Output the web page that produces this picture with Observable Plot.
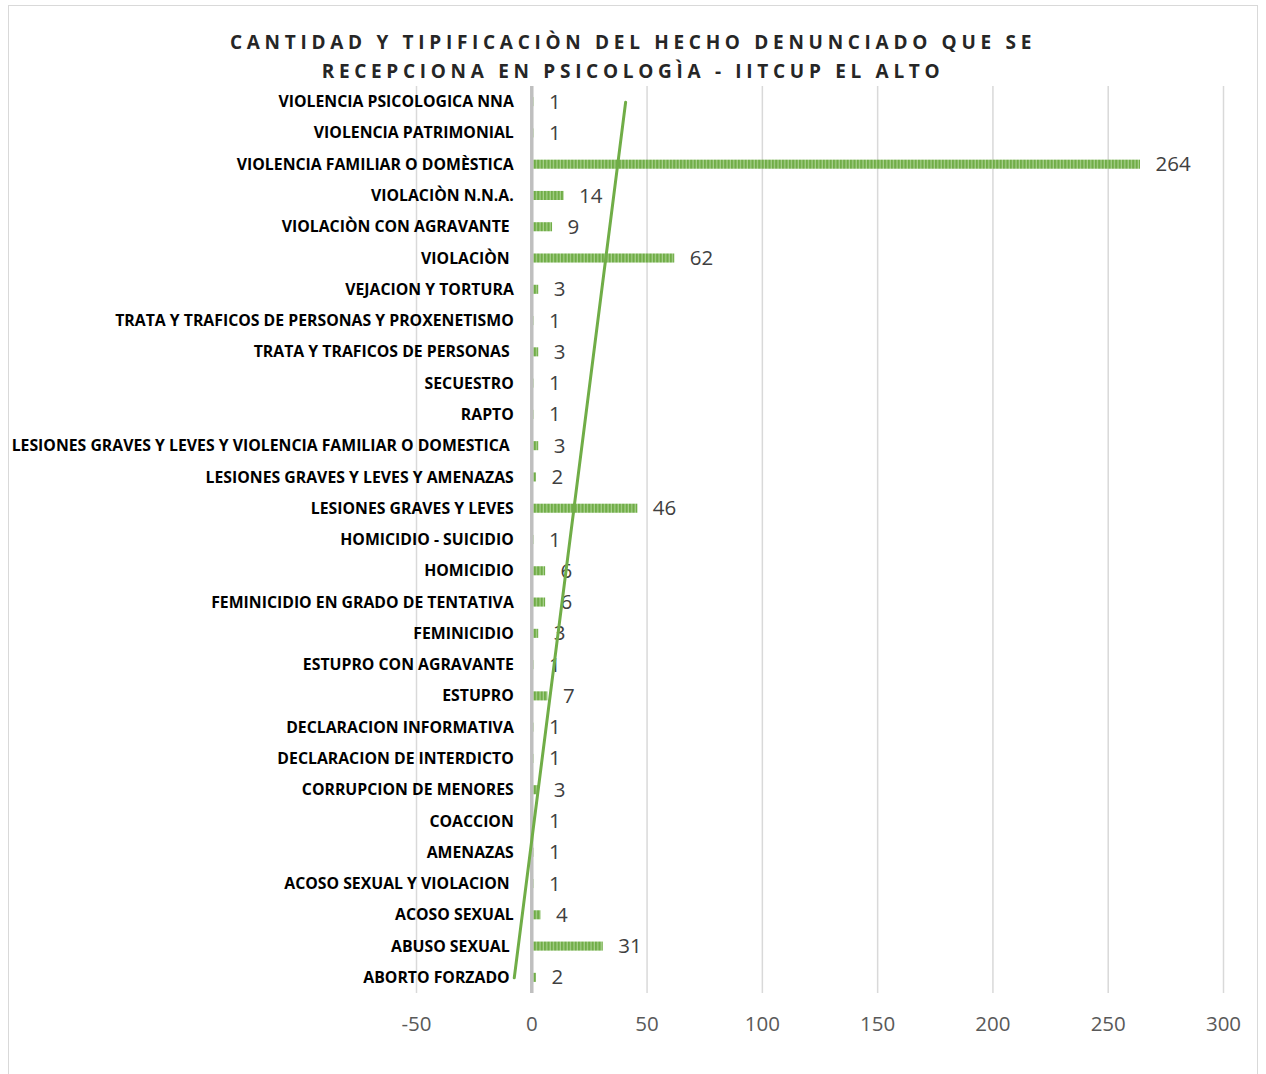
<!DOCTYPE html>
<html>
<head>
<meta charset="utf-8">
<script src="https://cdn.jsdelivr.net/npm/d3@7"></script>
<script src="https://cdn.jsdelivr.net/npm/@observablehq/plot@0.6"></script>
<style>
  html, body { margin: 0; padding: 0; background: #fff; }
  #page { position: relative; width: 1266px; height: 1074px; overflow: hidden; }
  #frame { position: absolute; left: 8px; top: 5px; width: 1250px; height: 1090px; border: 1.5px solid #d9d9d9; box-sizing: border-box; }
  #title { position: absolute; left: 0; top: 28px; width: 1266px; text-align: center;
           font-family: "Open Sans", sans-serif; font-weight: 700; font-size: 19px; letter-spacing: 4.7px;
           line-height: 28.5px; color: #262626; }
  #chart { position: absolute; left: 0; top: 80px; }
</style>
</head>
<body>
<div id="page">
  <div id="frame"></div>
  <div id="title">CANTIDAD Y TIPIFICACIÒN DEL HECHO DENUNCIADO QUE SE<br>RECEPCIONA EN PSICOLOGÌA - IITCUP EL ALTO</div>
  <div id="chart"></div>
</div>
<script>
// Categories, top to bottom as shown
const categories = [
  "VIOLENCIA PSICOLOGICA NNA",
  "VIOLENCIA PATRIMONIAL",
  "VIOLENCIA FAMILIAR O DOMÈSTICA",
  "VIOLACIÒN N.N.A.",
  "VIOLACIÒN CON AGRAVANTE ",
  "VIOLACIÒN ",
  "VEJACION Y TORTURA",
  "TRATA Y TRAFICOS DE PERSONAS Y PROXENETISMO",
  "TRATA Y TRAFICOS DE PERSONAS ",
  "SECUESTRO",
  "RAPTO",
  "LESIONES GRAVES Y LEVES Y VIOLENCIA FAMILIAR O DOMESTICA ",
  "LESIONES GRAVES Y LEVES Y AMENAZAS",
  "LESIONES GRAVES Y LEVES",
  "HOMICIDIO - SUICIDIO",
  "HOMICIDIO",
  "FEMINICIDIO EN GRADO DE TENTATIVA",
  "FEMINICIDIO",
  "ESTUPRO CON AGRAVANTE",
  "ESTUPRO",
  "DECLARACION INFORMATIVA",
  "DECLARACION DE INTERDICTO",
  "CORRUPCION DE MENORES",
  "COACCION",
  "AMENAZAS",
  "ACOSO SEXUAL Y VIOLACION ",
  "ACOSO SEXUAL",
  "ABUSO SEXUAL ",
  "ABORTO FORZADO "
];
const counts = [1, 1, 264, 14, 9, 62, 3, 1, 3, 1, 1, 3, 2, 46, 1, 6, 6, 3, 1, 7, 1, 1, 3, 1, 1, 1, 4, 31, 2];
const xTicks = [-50, 0, 50, 100, 150, 200, 250, 300];

const data = categories.map((c, i) => ({category: c, count: counts[i]}));

// Linear trendline (Excel style): category index from bottom (1..n) vs count
const n = data.length;
const pts = data.map((d, i) => ({idx: n - i, count: d.count, category: d.category}));
const mx = d3.mean(pts, d => d.idx), my = d3.mean(pts, d => d.count);
const slope = d3.sum(pts, d => (d.idx - mx) * (d.count - my)) / d3.sum(pts, d => (d.idx - mx) ** 2);
const intercept = my - slope * mx;
const trend = [pts[n - 1], pts[0]].map(p => ({category: p.category, v: intercept + slope * p.idx}));

const green = "#70AD47";
const plot = Plot.plot({
  width: 1266,
  height: 994,
  marginLeft: 416,
  marginRight: 43,
  marginTop: 6,
  marginBottom: 81,
  style: {fontFamily: "'Open Sans', sans-serif", background: "transparent", overflow: "visible"},
  x: {domain: [-50, 300], ticks: xTicks, tickSize: 0, tickPadding: 23, label: null, tickFormat: d => String(d)},
  y: {domain: categories, paddingInner: 0.71, paddingOuter: 0.355, round: false, axis: null},
  marks: [
    Plot.ruleX(xTicks.filter(t => t !== 0), {stroke: "#d9d9d9", strokeWidth: 1.5}),
    Plot.barX(data, {x: "count", y: "category", fill: "url(#stripes)"}),
    Plot.ruleX([0], {stroke: "#bfbfbf", strokeWidth: 3.5}),
    Plot.text(data, {x: 0, y: "category", text: "category", textAnchor: "end", dx: -18,
      fontWeight: 700, fontSize: 15.8, fill: "#000"}),
    Plot.text(data, {x: "count", y: "category", text: d => String(d.count), textAnchor: "start", dx: 15,
      fontSize: 20.5, fill: "#404040"}),
    Plot.line(trend, {x: "v", y: "category", stroke: green, strokeWidth: 3})
  ]
});

// striped fill pattern
const svg = d3.select(plot);
const defs = svg.insert("defs", ":first-child");
const pat = defs.append("pattern").attr("id", "stripes").attr("patternUnits", "userSpaceOnUse")
  .attr("width", 3.4).attr("height", 10);
pat.append("rect").attr("width", 3.4).attr("height", 10).attr("fill", "#a9d18e");
pat.append("rect").attr("width", 2.2).attr("height", 10).attr("fill", "#70AD47");
svg.select("g[aria-label='x-axis tick label']").attr("font-size", 20.5).attr("fill", "#595959");

document.getElementById("chart").appendChild(plot);
</script>
</body>
</html>
